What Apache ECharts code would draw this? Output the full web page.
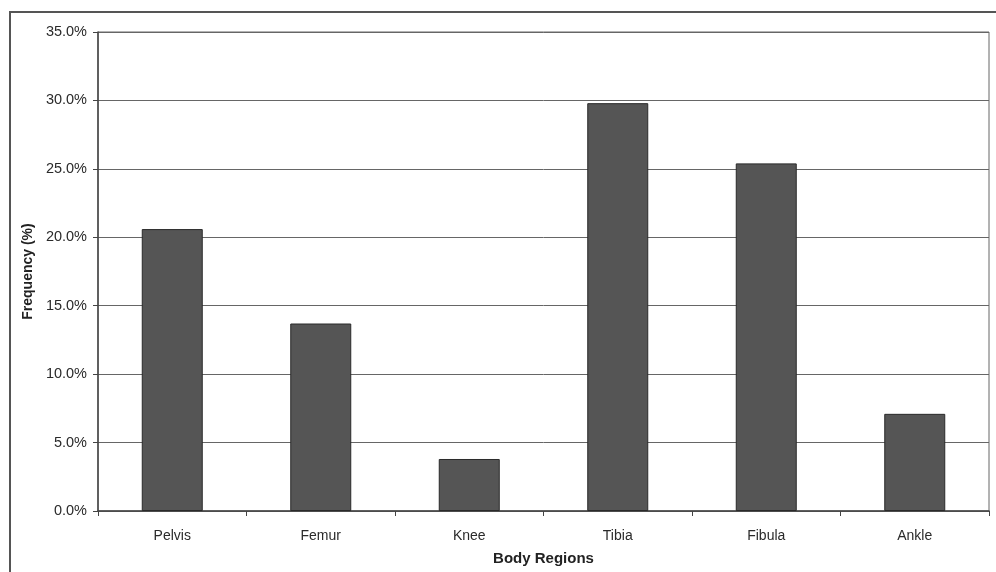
<!DOCTYPE html>
<html>
<head>
<meta charset="utf-8">
<script src="https://cdn.jsdelivr.net/npm/echarts@6/dist/echarts.min.js"></script>
<style>
  html, body { margin: 0; padding: 0; background: #fff; }
  #chart { width: 996px; height: 572px; }
</style>
</head>
<body>
<div id="chart"></div>
<script>
// Injury frequency by body region
const regions = ['Pelvis', 'Femur', 'Knee', 'Tibia', 'Fibula', 'Ankle'];
const frequency = [20.6, 13.7, 3.8, 29.8, 25.4, 7.1];

const chart = echarts.init(document.getElementById('chart'));
const font = 'Liberation Sans, Arial, sans-serif';

chart.setOption({
  animation: false,
  backgroundColor: '#fff',
  grid: { left: 98, right: 7, top: 32, bottom: 61, outerBoundsMode: 'none', containLabel: false },
  graphic: [
    {
      type: 'rect',
      shape: { x: 10, y: 12, width: 1000, height: 600 },
      style: { fill: 'none', stroke: '#555', lineWidth: 2 },
      silent: true
    },
    {
      type: 'rect',
      shape: { x: 98, y: 32, width: 891, height: 479 },
      style: { fill: 'none', stroke: '#666', lineWidth: 1 },
      silent: true
    }
  ],
  xAxis: {
    type: 'category',
    data: regions,
    name: 'Body Regions',
    nameLocation: 'middle',
    nameGap: 40,
    nameTextStyle: { fontFamily: font, fontSize: 15, fontWeight: 'bold', color: '#222' },
    axisLine: { lineStyle: { color: '#444', width: 1.5 } },
    axisTick: { show: true, length: 5, lineStyle: { color: '#444' } },
    axisLabel: { fontFamily: font, fontSize: 14, color: '#2a2a2a', margin: 18 }
  },
  yAxis: {
    type: 'value',
    min: 0,
    max: 35,
    interval: 5,
    name: 'Frequency (%)',
    nameLocation: 'middle',
    nameGap: 57,
    nameTextStyle: { fontFamily: font, fontSize: 14, fontWeight: 'bold', color: '#222' },
    axisLine: { show: true, lineStyle: { color: '#444', width: 1.5 } },
    axisTick: { show: true, length: 5, lineStyle: { color: '#444' } },
    axisLabel: {
      fontFamily: font, fontSize: 14.5, color: '#2a2a2a', margin: 11,
      formatter: v => v.toFixed(1) + '%'
    },
    splitLine: { lineStyle: { color: '#666', width: 1 } }
  },
  series: [{
    type: 'bar',
    data: frequency,
    barWidth: 61,
    itemStyle: { color: '#555555', borderColor: '#2a2a2a', borderWidth: 1 }
  }]
});
</script>
</body>
</html>
